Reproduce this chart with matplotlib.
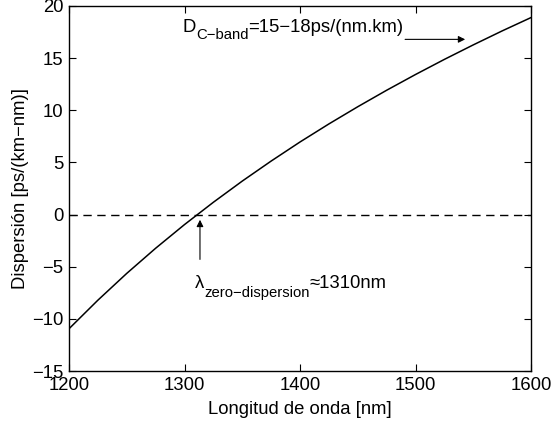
import matplotlib
matplotlib.use("Agg")
import matplotlib.pyplot as plt
import matplotlib.transforms as mtransforms

plt.rcParams['font.family'] = ['Liberation Sans', 'DejaVu Sans']

# Data
wavelength = [1200, 1225, 1250, 1275, 1300, 1325, 1350, 1375, 1400,
              1425, 1450, 1475, 1500, 1525, 1550, 1575, 1600]
dispersion = [-10.95, -8.21, -5.64, -3.23, -0.96, 1.18, 3.21, 5.13, 6.96,
              8.69, 10.34, 11.92, 13.43, 14.88, 16.27, 17.61, 18.89]
xticks = [1200, 1300, 1400, 1500, 1600]
yticks = [-15, -10, -5, 0, 5, 10, 15, 20]

W, H = 553, 425
FS = 13.3
SUB = 10.7
fig = plt.figure(figsize=(W / 100, H / 100), dpi=100)
ax = fig.add_axes([69 / W, 1 - 371 / H, 462 / W, 365 / H])

ax.plot(wavelength, dispersion, color='black', lw=1.1)
ax.axhline(0, color='black', lw=1.0, ls=(0, (6, 4)))

ax.set_xlim(1200, 1600)
ax.set_ylim(-15, 20)
ax.set_xticks(xticks)
ax.set_yticks(yticks)
ax.tick_params(direction='in', length=5, width=0.8, top=True, right=True,
               labelsize=FS, pad=4)
for s in ax.spines.values():
    s.set_linewidth(1.0)

ax.set_xlabel('Longitud de onda [nm]', fontsize=FS, labelpad=5)
ax.set_ylabel('Dispersión [ps/(km−nm)]', fontsize=FS, labelpad=2)

renderer = fig.canvas.get_renderer()


def compound(x, y, parts):
    dx = 0.0
    for s, size, dy in parts:
        tr = mtransforms.offset_copy(ax.transData, fig=fig, x=dx, y=dy,
                                     units='dots')
        t = ax.text(x, y, s, fontsize=size, ha='left', va='baseline',
                    transform=tr)
        dx += t.get_window_extent(renderer).width


# annotations
compound(1298.4, 17.5, [('D', FS, 0), ('C−band', SUB, -7),
                        ('=15−18ps/(nm.km)', FS, 0)])
ax.annotate('', xy=(1543, 16.8), xytext=(1491, 16.8),
            arrowprops=dict(arrowstyle='-|>', color='black', lw=0.8,
                            mutation_scale=10, shrinkA=0, shrinkB=0))
compound(1309.1, -7.04, [('λ', FS, 0), ('zero−dispersion', SUB, -9),
                         ('≈1310nm', FS, 0)])
ax.annotate('', xy=(1313.4, -0.5), xytext=(1313.4, -4.3),
            arrowprops=dict(arrowstyle='-|>', color='black', lw=0.8,
                            mutation_scale=10, shrinkA=0, shrinkB=0))

fig.savefig('out.png', dpi=100)
